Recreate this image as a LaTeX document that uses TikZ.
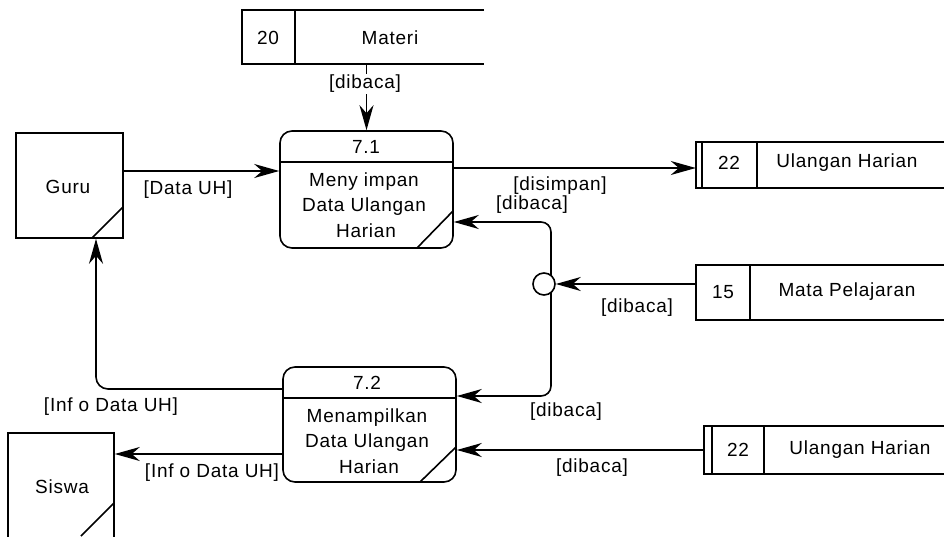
\documentclass[tikz,border=0pt]{standalone}
\usepackage{fontspec}
\newfontfamily\dfont{Liberation Sans}[LetterSpace=4]
\usetikzlibrary{arrows.meta,calc}
\begin{document}
\begin{tikzpicture}[x=1pt,y=-1pt,
  every node/.style={font={\dfont\fontsize{19}{25.5}\selectfont},inner sep=0pt},
  ln/.style={line width=1.6pt,line join=miter},
  arr/.style={ln,-{Stealth[length=25pt,width=14pt,inset=8pt]}},
  lbl/.style={fill=white,inner sep=1pt},
  proc/.style={draw,line width=1.6pt,rounded corners=12pt},
  ent/.style={draw,line width=1.6pt},
  store/.style={draw=none}]
\useasboundingbox (0,0) rectangle (944,537);
\clip (0,0) rectangle (944,537);

% Data store 20 Materi
\node[store,minimum width=242pt,minimum height=54pt] (m) at (363,37) {};
\draw[ln] (484,10) -- (242,10) -- (242,64) -- (484,64);
\draw[ln] (295,10) -- (295,64);
\node (m20) at (268,38) {20};
\node (mt) at (390,38) {Materi};

% Process 7.1
\node[proc,minimum width=173pt,minimum height=117pt] (p71) at (366.5,189.5) {};
\draw[ln] (280,162) -- (453,162);
\draw[ln] (417,248) -- (453,211);
\node (p71n) at (366,147) {7.1};
\node[align=center] (p71t) at (364,205) {Meny impan\\Data Ulangan\\\hspace{4pt}Harian};

% Process 7.2
\node[proc,minimum width=173pt,minimum height=115pt] (p72) at (369.5,424.5) {};
\draw[ln] (283,398) -- (456,398);
\draw[ln] (420,482) -- (456,447);
\node (p72n) at (367,383) {7.2};
\node[align=center] (p72t) at (367,441) {Menampilkan\\Data Ulangan\\\hspace{4pt}Harian};

% Guru
\node[ent,minimum width=107pt,minimum height=105pt] (guru) at (69.5,185.5) {};
\draw[ln] (92,238) -- (123,207);
\node (gurut) at (68,187) {Guru};

% Siswa
\node[ent,minimum width=106pt,minimum height=108pt] (siswa) at (61,487) {};
\draw[ln] (114,503) -- (81,536);
\node (siswat) at (62,487) {Siswa};

% Data store 22 Ulangan Harian (top)
\node[store,minimum width=248pt,minimum height=46pt] (s22a) at (820,165) {};
\draw[ln] (944,142) -- (696,142) -- (696,188) -- (944,188);
\draw[ln] (702,142) -- (702,188);
\draw[ln] (757,142) -- (757,188);
\node (s22an) at (729,163) {22};
\node (s22at) at (847,163) {Ulangan Harian};

% Data store 15 Mata Pelajaran
\node[store,minimum width=248pt,minimum height=55pt] (s15) at (820,292.5) {};
\draw[ln] (944,265) -- (696,265) -- (696,320) -- (944,320);
\draw[ln] (750,265) -- (750,320);
\node (s15n) at (723,292) {15};
\node (s15t) at (847,292) {Mata Pelajaran};

% Data store 22 Ulangan Harian (bottom)
\node[store,minimum width=240pt,minimum height=48pt] (s22b) at (824,450) {};
\draw[ln] (944,426) -- (704,426) -- (704,474) -- (944,474);
\draw[ln] (712,426) -- (712,474);
\draw[ln] (764,426) -- (764,474);
\node (s22bn) at (738,450) {22};
\node (s22bt) at (860,450) {Ulangan Harian};

% Connectors
\draw[arr] (m.south -| p71.north) -- (p71.north);
\node[lbl] (l1) at (365,84) {[dibaca]};

\draw[arr] (guru.east |- 0,171) -- (p71.west |- 0,171);
\node (l2) at (188,190) {[Data UH]};

\draw[arr] (p71.east |- 0,168) -- (s22a.west |- 0,168);
\node (l3) at (560,186) {[disimpan]};

\coordinate (jc) at (544,284);
\draw[arr,rounded corners=10pt] (551,278) -- (551,222) -- (p71.east |- 0,222);
\draw[arr,rounded corners=10pt] (551,290) -- (551,396) -- (p72.east |- 0,396);
\node[circle,draw,line width=1.6pt,fill=white,minimum size=22pt] (j) at (jc) {};
\draw[arr] (s15.west |- j.east) -- (j.east);
\node (l4) at (532,205) {[dibaca]};
\node (l5) at (637,308) {[dibaca]};
\node (l6) at (566,412) {[dibaca]};

\draw[arr] (s22b.west) -- (p72.east |- s22b.west);
\node (l7) at (592,468) {[dibaca]};

\draw[arr,rounded corners=12pt] (p72.west |- 0,389) -- (96,389) -- (guru.south -| 96,0);
\node (l8) at (111,407) {[Inf o Data UH]};

\draw[arr] (p72.west |- 0,454) -- (siswa.east |- 0,454);
\node (l9) at (212,473) {[Inf o Data UH]};
\end{tikzpicture}
\end{document}
